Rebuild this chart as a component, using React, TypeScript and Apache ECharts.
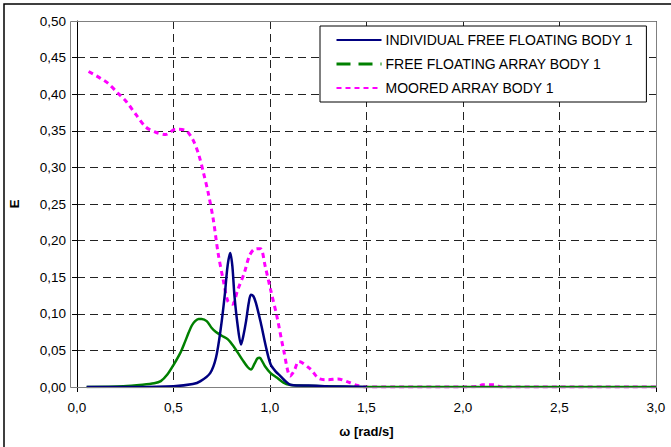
import React, { useEffect, useRef } from "react";
import * as echarts from "echarts";

// ω [rad/s] and E values
const omegaIndividual = [0.05, 0.3, 0.5, 0.6, 0.64, 0.69, 0.72, 0.745, 0.765, 0.78, 0.794, 0.805, 0.816, 0.833, 0.85, 0.862, 0.876, 0.89, 0.901, 0.914, 0.927, 0.952, 0.978, 1.003, 1.03, 1.054, 1.08, 1.105, 1.15, 1.2, 1.3, 1.5];
const eIndividual = [0, 0, 0.001, 0.004, 0.008, 0.019, 0.04, 0.08, 0.124, 0.165, 0.183, 0.165, 0.124, 0.083, 0.058, 0.07, 0.09, 0.115, 0.126, 0.124, 0.115, 0.088, 0.056, 0.031, 0.021, 0.015, 0.008, 0.003, 0.002, 0.002, 0.001, 0];

const omegaArray = [0.05, 0.24, 0.34, 0.4, 0.434, 0.468, 0.502, 0.536, 0.56, 0.578, 0.595, 0.612, 0.63, 0.646, 0.672, 0.697, 0.72, 0.75, 0.782, 0.81, 0.833, 0.86, 0.885, 0.901, 0.92, 0.935, 0.947, 0.96, 0.975, 1.003, 1.037, 1.07, 1.1, 1.15, 1.3, 1.5, 2.0, 2.5, 3.0];
const eArray = [0, 0.001, 0.003, 0.005, 0.008, 0.017, 0.031, 0.047, 0.062, 0.074, 0.084, 0.09, 0.093, 0.093, 0.09, 0.081, 0.075, 0.07, 0.065, 0.056, 0.047, 0.036, 0.027, 0.024, 0.032, 0.039, 0.04, 0.035, 0.028, 0.019, 0.0125, 0.006, 0.003, 0.002, 0.001, 0, 0, 0, 0];

const omegaMoored = [0.06, 0.12, 0.16, 0.21, 0.255, 0.306, 0.357, 0.408, 0.459, 0.51, 0.56, 0.6, 0.63, 0.655, 0.68, 0.706, 0.731, 0.757, 0.782, 0.805, 0.833, 0.867, 0.893, 0.918, 0.95, 0.975, 1.003, 1.037, 1.071, 1.105, 1.125, 1.15, 1.207, 1.258, 1.3, 1.352, 1.403, 1.454, 1.5, 2.0, 2.08, 2.1, 2.16, 2.2, 2.5, 3.0];
const eMoored = [0.431, 0.422, 0.415, 0.402, 0.39, 0.372, 0.355, 0.348, 0.345, 0.352, 0.351, 0.338, 0.318, 0.293, 0.265, 0.229, 0.183, 0.147, 0.117, 0.113, 0.133, 0.156, 0.179, 0.188, 0.189, 0.165, 0.133, 0.095, 0.05, 0.015, 0.022, 0.035, 0.025, 0.011, 0.01, 0.011, 0.007, 0.002, 0, 0, 0.001, 0.003, 0.003, 0, 0, 0];

const seriesNames = [
  "INDIVIDUAL FREE FLOATING BODY 1",
  "FREE FLOATING ARRAY BODY 1",
  "MOORED ARRAY BODY 1",
];

const pairs = (xs: number[], ys: number[]) => xs.map((x, i) => [x, ys[i]]);

export default function App() {
  const ref = useRef<HTMLDivElement>(null);
  useEffect(() => {
    if (!ref.current) return;
    const chart = echarts.init(ref.current, undefined, { renderer: "svg" });
    const font = "Liberation Sans, Arial, sans-serif";
    const grid = { left: 70, top: 21, width: 586, height: 366 };
    const hiddenSymbol = { opacity: 0, borderWidth: 0 };
    chart.setOption({
      animation: false,
      backgroundColor: "#fff",
      textStyle: { fontFamily: font },
      grid: { ...grid, containLabel: false },
      xAxis: {
        type: "value",
        min: 0,
        max: 3,
        interval: 0.5,
        name: "ω [rad/s]",
        nameLocation: "middle",
        nameGap: 38,
        nameTextStyle: { fontWeight: "bold", fontSize: 13, color: "#000", fontFamily: font },
        axisLine: { show: true, lineStyle: { color: "#808080", width: 1 } },
        axisTick: { show: true, length: 5, lineStyle: { color: "#000" } },
        axisLabel: {
          color: "#000",
          fontSize: 13.5,
          margin: 13,
          fontFamily: font,
          formatter: (v: number) => v.toFixed(1).replace(".", ","),
        },
        splitLine: { show: true, lineStyle: { color: "#222", type: [8, 5], width: 1 } },
      },
      yAxis: {
        type: "value",
        min: 0,
        max: 0.5,
        interval: 0.05,
        name: "E",
        nameLocation: "middle",
        nameGap: 56,
        nameRotate: 90,
        nameTextStyle: { fontWeight: "bold", fontSize: 13, color: "#000", fontFamily: font },
        axisLine: { show: true, lineStyle: { color: "#000", width: 1 } },
        axisTick: { show: true, length: 5, lineStyle: { color: "#000" } },
        axisLabel: {
          color: "#000",
          fontSize: 13.5,
          margin: 11,
          fontFamily: font,
          formatter: (v: number) => v.toFixed(2).replace(".", ","),
        },
        splitLine: { show: true, lineStyle: { color: "#222", type: [8, 5], width: 1 } },
      },
      legend: {
        orient: "vertical",
        left: 320,
        top: 26,
        padding: [7, 13, 7, 15],
        itemWidth: 45,
        itemHeight: 14,
        itemGap: 10,
        backgroundColor: "#fff",
        borderColor: "#000",
        borderWidth: 1,
        itemStyle: hiddenSymbol,
        textStyle: { fontSize: 14, color: "#000", fontFamily: font, padding: [0, 0, 0, -1] },
        data: [
          { name: seriesNames[0], itemStyle: hiddenSymbol },
          { name: seriesNames[1], itemStyle: hiddenSymbol, lineStyle: { type: [14, 8], width: 3 } },
          { name: seriesNames[2], itemStyle: hiddenSymbol },
        ],
      },
      graphic: [
        {
          type: "rect",
          z: 100,
          silent: true,
          shape: { x: grid.left + 0.5, y: grid.top + 0.5, width: grid.width, height: grid.height },
          style: { fill: "none", stroke: "#808080", lineWidth: 1 },
        },
        {
          type: "rect",
          z: 100,
          silent: true,
          shape: { x: 4, y: 4, width: 720, height: 520 },
          style: { fill: "none", stroke: "#000", lineWidth: 1.5 },
        },
      ],
      series: [
        {
          name: seriesNames[2],
          type: "line",
          data: pairs(omegaMoored, eMoored),
          symbol: "none",
          smooth: 0.3,
          z: 3,
          lineStyle: { color: "#FF00FF", width: 3, type: [5, 4] },
          itemStyle: { color: "#FF00FF" },
        },
        {
          name: seriesNames[1],
          type: "line",
          data: pairs(omegaArray, eArray),
          symbol: "none",
          smooth: 0.3,
          z: 4,
          lineStyle: { color: "#008000", width: 2.5, type: "solid" },
          itemStyle: { color: "#008000" },
        },
        {
          name: seriesNames[0],
          type: "line",
          data: pairs(omegaIndividual, eIndividual),
          symbol: "none",
          smooth: 0.3,
          z: 5,
          lineStyle: { color: "#000080", width: 2.5 },
          itemStyle: { color: "#000080" },
        },
      ],
    });
    return () => chart.dispose();
  }, []);
  return (
    <div
      ref={ref}
      style={{ position: "absolute", left: 0, top: 0, width: 671, height: 447 }}
    />
  );
}
